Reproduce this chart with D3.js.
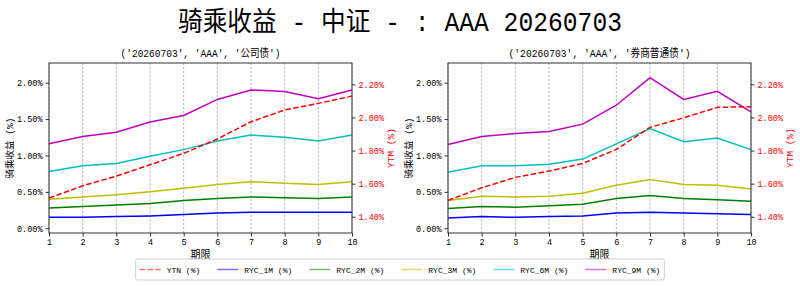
<!DOCTYPE html>
<html>
<head>
<meta charset="utf-8">
<script src="https://cdn.jsdelivr.net/npm/d3@7/dist/d3.min.js"></script>
<style>
  body { margin: 0; background: #fff; }
  svg { display: block; }
</style>
</head>
<body>
<svg id="chart" width="800" height="286"></svg>
<script>
// ---- data ----
var terms = [1, 2, 3, 4, 5, 6, 7, 8, 9, 10];
var mainTitle = "骑乘收益 - 中证 - : AAA 20260703";
var panelTitles = ["('20260703', 'AAA', '公司债')", "('20260703', 'AAA', '券商普通债')"];
var seriesNames = ["YTN (%)", "RYC_1M (%)", "RYC_2M (%)", "RYC_3M (%)", "RYC_6M (%)", "RYC_9M (%)"];
var seriesColors = ["#ff0000", "#0000ff", "#008000", "#bfbf00", "#00bfbf", "#bf00bf"];
var leftTicks = [0, 0.5, 1.0, 1.5, 2.0];
var rightTicks = [1.4, 1.6, 1.8, 2.0, 2.2];

// 公司债
var corpYtm = [1.513, 1.587, 1.646, 1.714, 1.783, 1.870, 1.974, 2.045, 2.085, 2.129];
var corpRyc1m = [0.15, 0.15, 0.16, 0.17, 0.19, 0.21, 0.22, 0.22, 0.22, 0.22];
var corpRyc2m = [0.28, 0.30, 0.32, 0.34, 0.38, 0.41, 0.43, 0.42, 0.41, 0.43];
var corpRyc3m = [0.40, 0.43, 0.46, 0.50, 0.55, 0.60, 0.64, 0.62, 0.60, 0.64];
var corpRyc6m = [0.78, 0.86, 0.89, 0.99, 1.08, 1.20, 1.28, 1.25, 1.20, 1.28];
var corpRyc9m = [1.16, 1.26, 1.32, 1.46, 1.55, 1.77, 1.90, 1.88, 1.78, 1.90];

// 券商普通债
var brokerYtm = [1.499, 1.575, 1.638, 1.676, 1.722, 1.807, 1.940, 1.998, 2.061, 2.065];
var brokerRyc1m = [0.14, 0.16, 0.15, 0.16, 0.17, 0.21, 0.22, 0.21, 0.20, 0.19];
var brokerRyc2m = [0.27, 0.30, 0.29, 0.31, 0.33, 0.41, 0.45, 0.41, 0.39, 0.37];
var brokerRyc3m = [0.38, 0.44, 0.43, 0.44, 0.48, 0.59, 0.67, 0.60, 0.59, 0.54];
var brokerRyc6m = [0.77, 0.86, 0.86, 0.88, 0.95, 1.16, 1.37, 1.19, 1.24, 1.08];
var brokerRyc9m = [1.15, 1.26, 1.30, 1.33, 1.43, 1.69, 2.07, 1.77, 1.88, 1.60];

var panels = [
  { title: panelTitles[0], left: 49, ytm: corpYtm,
    ryc: [corpRyc1m, corpRyc2m, corpRyc3m, corpRyc6m, corpRyc9m] },
  { title: panelTitles[1], left: 448, ytm: brokerYtm,
    ryc: [brokerRyc1m, brokerRyc2m, brokerRyc3m, brokerRyc6m, brokerRyc9m] }
];

var monoFont = "'Liberation Mono', 'DejaVu Sans Mono', 'Noto Sans CJK SC', monospace";
var plotW = 303, plotTop = 63, plotBottom = 233;

var svg = d3.select("#chart");

svg.append("text")
  .attr("x", 400)
  .attr("y", 31)
  .attr("text-anchor", "middle")
  .attr("font-family", monoFont)
  .attr("font-size", 27)
  .attr("textLength", 444)
  .attr("lengthAdjust", "spacingAndGlyphs")
  .attr("fill", "#000")
  .text(mainTitle);

panels.forEach(function(p) {
  var x = d3.scaleLinear().domain([1, 10]).range([p.left, p.left + plotW]);
  var yL = d3.scaleLinear().domain([-0.065, 2.27]).range([plotBottom, plotTop]);
  var yR = d3.scaleLinear().domain([1.302, 2.329]).range([plotBottom, plotTop]);
  var g = svg.append("g");

  // vertical grid
  g.selectAll("line.grid")
    .data(terms)
    .enter()
    .append("line")
    .attr("class", "grid")
    .attr("x1", function(d) { return x(d); })
    .attr("x2", function(d) { return x(d); })
    .attr("y1", plotTop)
    .attr("y2", plotBottom)
    .attr("stroke", "#a8a8a8")
    .attr("stroke-width", 0.8)
    .attr("stroke-dasharray", "2.5,1.5");

  var line = function(scale) {
    return d3.line()
      .x(function(d, i) { return x(terms[i]); })
      .y(function(d) { return scale(d); });
  };

  p.ryc.forEach(function(vals, i) {
    g.append("path")
      .datum(vals)
      .attr("d", line(yL))
      .attr("fill", "none")
      .attr("stroke", seriesColors[i + 1])
      .attr("stroke-width", 1.5);
  });

  g.append("path")
    .datum(p.ytm)
    .attr("d", line(yR))
    .attr("fill", "none")
    .attr("stroke", seriesColors[0])
    .attr("stroke-width", 1.5)
    .attr("stroke-dasharray", "5.5,2.4");

  // axes
  var ax = g.append("g")
    .attr("transform", "translate(0," + plotBottom + ")")
    .call(d3.axisBottom(x).tickValues(terms).tickFormat(d3.format("d")).tickSize(3.5).tickPadding(2));
  var al = g.append("g")
    .attr("transform", "translate(" + p.left + ",0)")
    .call(d3.axisLeft(yL).tickValues(leftTicks).tickFormat(function(d) { return d.toFixed(2) + "%"; }).tickSize(3.5).tickPadding(3));
  var ar = g.append("g")
    .attr("transform", "translate(" + (p.left + plotW) + ",0)")
    .call(d3.axisRight(yR).tickValues(rightTicks).tickFormat(function(d) { return d.toFixed(2) + "%"; }).tickSize(3.5).tickPadding(3));

  [ax, al, ar].forEach(function(a) {
    a.select(".domain").remove();
    a.selectAll(".tick line").attr("stroke", "#333");
    a.selectAll(".tick text")
      .attr("font-family", monoFont)
      .attr("font-size", 8.5)
      .attr("fill", "#000");
  });
  ar.selectAll(".tick text").attr("fill", "#ff0000");

  g.append("rect")
    .attr("x", p.left)
    .attr("y", plotTop)
    .attr("width", plotW)
    .attr("height", plotBottom - plotTop)
    .attr("fill", "none")
    .attr("stroke", "#333")
    .attr("stroke-width", 1);

  g.append("text")
    .attr("x", p.left + plotW / 2)
    .attr("y", 57)
    .attr("text-anchor", "middle")
    .attr("font-family", monoFont)
    .attr("font-size", 11)
    .attr("textLength", p.title.length > 26 ? 182 : 160)
    .attr("lengthAdjust", "spacingAndGlyphs")
    .text(p.title);

  g.append("text")
    .attr("x", p.left + plotW / 2)
    .attr("y", 258)
    .attr("text-anchor", "middle")
    .attr("font-family", monoFont)
    .attr("font-size", 10)
    .text("期限");

  g.append("text")
    .attr("transform", "translate(" + (p.left - 36) + "," + ((plotTop + plotBottom) / 2) + ") rotate(-90)")
    .attr("text-anchor", "middle")
    .attr("font-family", monoFont)
    .attr("font-size", 9.5)
    .text("骑乘收益 (%)");

  g.append("text")
    .attr("transform", "translate(" + (p.left + plotW + 42) + "," + ((plotTop + plotBottom) / 2) + ") rotate(-90)")
    .attr("text-anchor", "middle")
    .attr("font-family", monoFont)
    .attr("font-size", 9.5)
    .attr("fill", "#ff0000")
    .text("YTM (%)");
});

// legend
var legend = svg.append("g");
var box = legend.append("rect")
  .attr("y", 259)
  .attr("height", 21)
  .attr("rx", 2)
  .attr("fill", "#fff")
  .attr("stroke", "#d0d0d0")
  .attr("stroke-width", 1);

var cursor = 0;
var items = legend.selectAll("g.item")
  .data(seriesNames)
  .enter()
  .append("g")
  .attr("class", "item");

items.append("line")
  .attr("x1", 0).attr("x2", 21)
  .attr("y1", 269.5).attr("y2", 269.5)
  .attr("stroke", function(d, i) { return seriesColors[i]; })
  .attr("stroke-opacity", 0.55)
  .attr("stroke-width", 1.5)
  .attr("stroke-dasharray", function(d, i) { return i === 0 ? "5.5,2.4" : null; });

items.append("text")
  .attr("x", 27)
  .attr("y", 272.5)
  .attr("font-family", monoFont)
  .attr("font-size", 8)
  .text(function(d) { return d; });

var offsets = [];
items.each(function() {
  var w = d3.select(this).select("text").node().getComputedTextLength();
  offsets.push(cursor);
  cursor += 27 + w + 17;
});
var legendW = cursor - 17 + 8;
var legendX = 400 - legendW / 2;
box.attr("x", legendX).attr("width", legendW);
items.attr("transform", function(d, i) { return "translate(" + (legendX + 4 + offsets[i]) + ",0)"; });
</script>
</body>
</html>
